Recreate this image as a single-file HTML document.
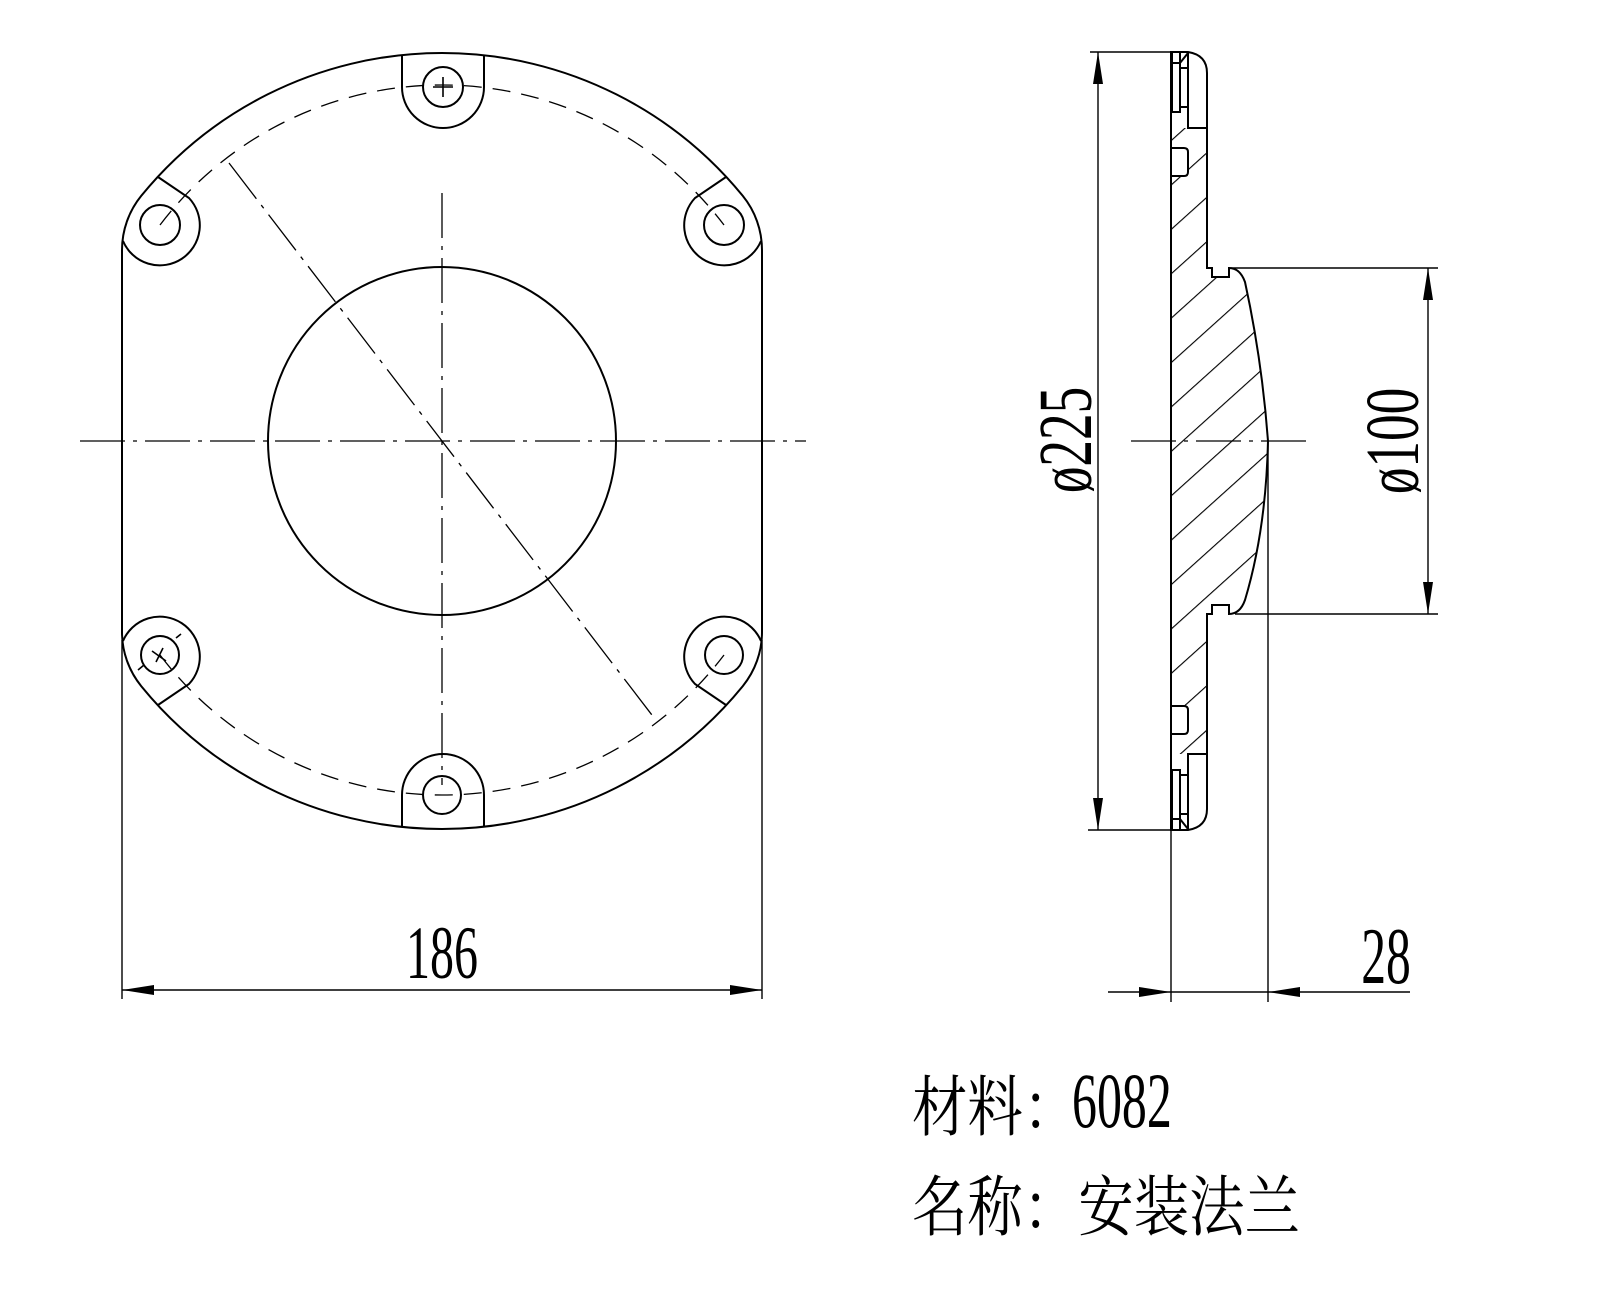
<!DOCTYPE html>
<html><head><meta charset="utf-8"><style>
html,body{margin:0;padding:0;background:#fff;}
svg{display:block;}
.t{font-family:"Liberation Serif",serif;fill:#000;}
.c{font-family:"Liberation Serif","Noto Serif CJK SC",serif;fill:#000;}
</style></head><body>
<svg width="1600" height="1290" viewBox="0 0 1600 1290" xmlns="http://www.w3.org/2000/svg">
<defs>
<pattern id="h" patternUnits="userSpaceOnUse" width="33" height="33" patternTransform="translate(1171,140) rotate(-42)">
<line x1="0" y1="0" x2="33" y2="0" stroke="#000" stroke-width="2.2"/>
</pattern>
<clipPath id="cp"><rect x="1171" y="128" width="120" height="626"/></clipPath>
<marker id="a" viewBox="0 0 32 10" refX="32" refY="5" markerWidth="32" markerHeight="10" markerUnits="userSpaceOnUse" orient="auto-start-reverse"><path d="M0,0 L32,5 L0,10 Z" fill="#000"/></marker>
</defs>
<g fill="none" stroke="#000" stroke-width="2">
<path d="M122,250 A85.8,85.8 0 0 1 141.3,195.8 A388,388 0 0 1 742.7,195.8 A85.8,85.8 0 0 1 762,250 L762,632 A85.8,85.8 0 0 1 742.7,686.2 A388,388 0 0 1 141.3,686.2 A85.8,85.8 0 0 1 122,632 Z"/>
<circle cx="442" cy="441" r="174"/>
<path d="M402,56 L402,87 A41,41 0 0 0 484,87 L484,56"/>
<path d="M402,827 L402,795 A41,41 0 0 1 484,795 L484,827"/>
<path d="M158,177 L189,198 A40,40 0 1 1 123,241"/>
<path d="M158,705 L189,684 A40,40 0 1 0 123,641"/>
<path d="M726,177 L695,198 A40,40 0 1 0 761,241"/>
<path d="M726,705 L695,684 A40,40 0 1 1 761,641"/>
<circle cx="443" cy="87" r="20"/>
<circle cx="442" cy="795" r="19"/>
<circle cx="160" cy="225" r="20"/>
<circle cx="724" cy="225" r="20"/>
<circle cx="160" cy="655" r="19"/>
<circle cx="724" cy="655" r="19"/>
</g>
<g stroke="#000" stroke-width="1.6" fill="none">
<path d="M443,77 V97 M433,87 H453"/>
<path d="M152,651 L166,661 M156,662 L163,648 M138,670 L144,665 M176,638 L181,634"/>
</g>
<g fill="none" stroke="#000" stroke-width="1.3" stroke-dasharray="18,11">
<path d="M160,225 A354,354 0 0 1 724,225"/>
<path d="M160,655 A354,354 0 0 0 724,655"/>
</g>
<g stroke="#000" stroke-width="1.3" stroke-dasharray="45,8,4,8">
<line x1="80" y1="441" x2="806" y2="441"/>
<line x1="442" y1="193" x2="442" y2="785"/>
<line x1="229" y1="163" x2="655" y2="719"/>
<line x1="1131" y1="441" x2="1308" y2="441"/>
</g>
<g stroke="#000" stroke-width="1.4" fill="none">
<line x1="122" y1="640" x2="122" y2="999"/>
<line x1="762" y1="640" x2="762" y2="999"/>
<line x1="122" y1="990" x2="762" y2="990" marker-start="url(#a)" marker-end="url(#a)"/>
</g>
<text class="t" x="0" y="0" font-size="75" text-anchor="middle" transform="translate(442,978) scale(0.64,1)">186</text>

<path d="M1171,128 L1207,128 L1207,268 L1212,268 L1212,277 L1229,277 L1229,268 Q1240,268 1245,282 Q1262,360 1268,441 Q1266,530 1245,600 Q1240,614 1229,614 L1229,605 L1212,605 L1212,614 L1207,614 L1207,754 L1171,754 Z" fill="url(#h)" clip-path="url(#cp)"/>
<rect x="1171" y="148" width="17" height="28" fill="#fff"/>
<rect x="1171" y="706" width="17" height="28" fill="#fff"/>
<g fill="none" stroke="#000" stroke-width="2">
<path d="M1171,52 L1188,52 Q1207,55 1207,73 L1207,268 L1212,268 L1212,277 L1229,277 L1229,268 Q1240,268 1245,282 Q1262,360 1268,441 Q1266,530 1245,600 Q1240,614 1229,614 L1229,605 L1212,605 L1212,614 L1207,614 L1207,809 Q1207,827 1188,830 L1171,830 Z"/>
<path d="M1171,148 H1184 Q1188,148 1188,152 V172 Q1188,176 1184,176 H1171"/>
<path d="M1171,734 H1184 Q1188,734 1188,730 V710 Q1188,706 1184,706 H1171"/>
<g id="top">
<path d="M1188,52 V128 H1207"/>
<rect x="1172" y="52" width="8" height="60"/>
<rect x="1180" y="68" width="8" height="39"/>
<path d="M1180,63 L1188,53 M1172,63 H1180"/>
</g>
<use href="#top" transform="translate(0,882) scale(1,-1)"/>
</g>
<g stroke="#000" stroke-width="1.4" fill="none">
<line x1="1090" y1="52" x2="1171" y2="52"/>
<line x1="1088" y1="830" x2="1171" y2="830"/>
<line x1="1098" y1="52" x2="1098" y2="830" marker-start="url(#a)" marker-end="url(#a)"/>
<line x1="1229" y1="268" x2="1438" y2="268"/>
<line x1="1235" y1="614" x2="1438" y2="614"/>
<line x1="1428" y1="268" x2="1428" y2="614" marker-start="url(#a)" marker-end="url(#a)"/>
<line x1="1171" y1="830" x2="1171" y2="1002"/>
<line x1="1268" y1="441" x2="1268" y2="1002"/>
<line x1="1108" y1="992" x2="1171" y2="992" marker-end="url(#a)"/>
<line x1="1171" y1="992" x2="1268" y2="992"/>
<line x1="1410" y1="992" x2="1268" y2="992" marker-end="url(#a)"/>
</g>
<text class="t" font-size="76" text-anchor="middle" transform="translate(1091,440) rotate(-90) scale(0.7,1)">ø225</text>
<text class="t" font-size="76" text-anchor="middle" transform="translate(1418,441) rotate(-90) scale(0.7,1)">ø100</text>
<text class="t" font-size="80" text-anchor="middle" transform="translate(1386,983) scale(0.62,1)">28</text>
<text class="c" font-size="66" transform="translate(912,1130) scale(0.84,1)">材料：</text>
<text class="t" font-size="78" transform="translate(1072,1127) scale(0.64,1)">6082</text>
<text class="c" font-size="66" transform="translate(912,1230) scale(0.84,1)">名称：安装法兰</text>
</svg>
</body></html>
